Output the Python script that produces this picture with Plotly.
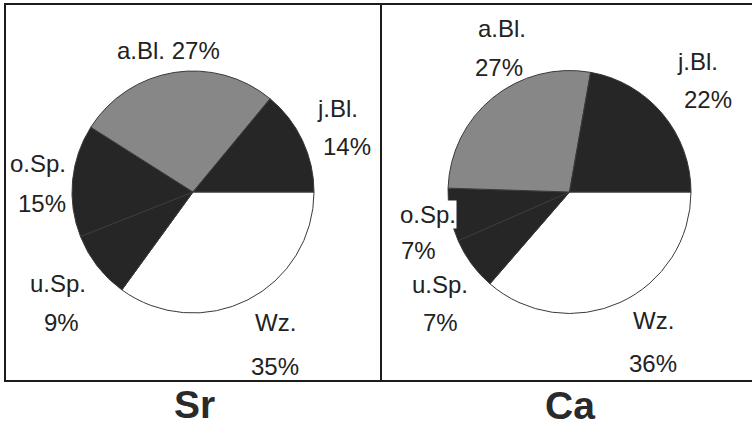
import plotly.graph_objects as go

# Share of each fraction (percent), listed counter-clockwise from 3 o'clock
categories = ["j.Bl.", "a.Bl.", "o.Sp.", "u.Sp.", "Wz."]
sr_values = [14, 27, 15, 9, 35]
ca_values = [22, 27, 7, 7, 36]
panel_titles = ["Sr", "Ca"]

slice_colors = ["#262626", "#878787", "#262626", "#262626", "#ffffff"]

W, H = 752, 429


def px_x(x):
    return x / W


def px_y(y):
    return 1 - y / H


# pie geometry in pixels: (centre x, centre y, radius)
pies = [(193, 192, 121), (569.5, 192, 121.5)]

# label anchors in pixels: name line and value line for each category
label_pos = [
    {   # Sr
        "j.Bl.": ((337, 109), (347, 146)),
        "a.Bl.": ((168, 50), None),
        "o.Sp.": ((38, 164), (42, 203)),
        "u.Sp.": ((58, 283), (62, 322)),
        "Wz.": ((275, 322), (275, 366)),
    },
    {   # Ca
        "j.Bl.": ((697, 62), (708, 99)),
        "a.Bl.": ((502, 28), (499, 67)),
        "o.Sp.": ((428, 214), (418, 251)),
        "u.Sp.": ((440, 284), (440, 322)),
        "Wz.": ((653, 320), (653, 363)),
    },
]

fig = go.Figure()
annotations = []
label_font = dict(family="Arial, Liberation Sans, sans-serif", size=24, color="#222222")


def label(x, y, text, font, bg=None):
    ann = dict(x=px_x(x), y=px_y(y), text=text, showarrow=False,
               xref="paper", yref="paper", xanchor="center", yanchor="middle",
               font=font, borderpad=0)
    if bg:
        ann["bgcolor"] = bg
    return ann


for (cx, cy, r), values, pos in zip(pies, [sr_values, ca_values], label_pos):
    # drawn clockwise from 3 o'clock in reverse order, so the listed order
    # runs counter-clockwise starting at 3 o'clock
    fig.add_trace(go.Pie(
        labels=categories[::-1],
        values=values[::-1],
        sort=False,
        direction="clockwise",
        rotation=90,
        marker=dict(colors=slice_colors[::-1], line=dict(color="#3a3a3a", width=1)),
        textinfo="none",
        hoverinfo="label+value",
        showlegend=False,
        domain=dict(x=[px_x(cx - r), px_x(cx + r)], y=[px_y(cy + r), px_y(cy - r)]),
    ))
    # name lines sit on white boxes, so they stay readable over the pie edge
    for name, val in zip(categories, values):
        name_xy, val_xy = pos[name]
        if val_xy is None:
            annotations.append(label(*name_xy, f"{name} {val}%", label_font, "white"))
        else:
            annotations.append(label(*name_xy, name, label_font, "white"))
            annotations.append(label(*val_xy, f"{val}%", label_font))

# element symbols under each panel
title_font = dict(family="Arial, Liberation Sans, sans-serif", size=39, color="#2a2a2a")
for title, (tx, ty) in zip(panel_titles, [(195, 404), (570, 405)]):
    annotations.append(label(tx, ty, f"<b>{title}</b>", title_font))

# panel frames
frame = dict(color="#1c1c1c", width=2)
shapes = [
    dict(type="rect", xref="paper", yref="paper",
         x0=px_x(5), x1=px_x(381), y0=px_y(381), y1=px_y(4), line=frame),
    dict(type="line", xref="paper", yref="paper",
         x0=px_x(381), x1=px_x(752), y0=px_y(4), y1=px_y(4), line=frame),
    dict(type="line", xref="paper", yref="paper",
         x0=px_x(381), x1=px_x(752), y0=px_y(381), y1=px_y(381), line=frame),
]

fig.update_layout(
    width=W, height=H,
    margin=dict(l=0, r=0, t=0, b=0),
    paper_bgcolor="white",
    plot_bgcolor="white",
    annotations=annotations,
    shapes=shapes,
)

fig.write_html("out.html")
